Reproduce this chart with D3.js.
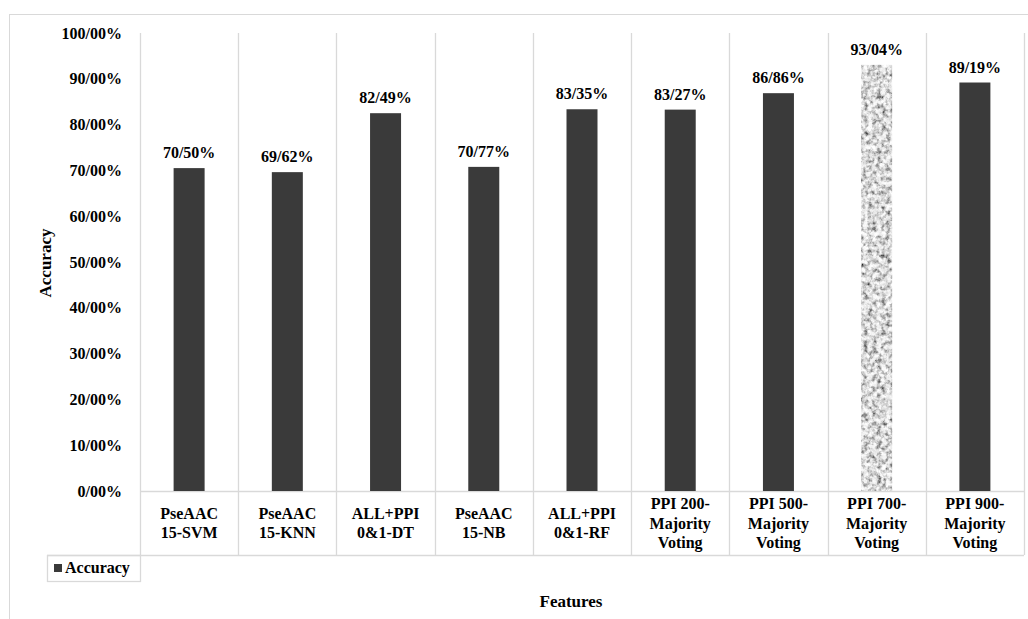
<!doctype html>
<html lang="en">
<head>
    <meta charset="utf-8"/>
    <title>Accuracy by Features</title>
    <style>
        body { margin: 0; background: #fff; }
        text { font-family: "Liberation Serif", "Times New Roman", serif; font-weight: bold; fill: #000; }
    </style>
    <script src="https://d3js.org/d3.v7.min.js"></script>
</head>
<body>
<svg width="1028" height="619"></svg>
<script>

    // data
    var categories = [
        ["PseAAC", "15-SVM"],
        ["PseAAC", "15-KNN"],
        ["ALL+PPI", "0&1-DT"],
        ["PseAAC", "15-NB"],
        ["ALL+PPI", "0&1-RF"],
        ["PPI 200-", "Majority", "Voting"],
        ["PPI 500-", "Majority", "Voting"],
        ["PPI 700-", "Majority", "Voting"],
        ["PPI 900-", "Majority", "Voting"]
    ];
    var accuracy = [70.50, 69.62, 82.49, 70.77, 83.35, 83.27, 86.86, 93.04, 89.19];
    var textured = [false, false, false, false, false, false, false, true, false];
    var yTicks = [0, 10, 20, 30, 40, 50, 60, 70, 80, 90, 100];

    var svg = d3.select("svg");
    var gridColor = "#d9d9d9",
        barColor = "#3a3a3a";

    var plotLeft = 140, plotRight = 1024, plotTop = 33, base = 491, tableBottom = 555;

    function fmt(v) {
        return v.toFixed(2).replace(".", "/") + "%";
    }

    // granite texture for the highlighted bar
    var defs = svg.append("defs");
    var f = defs.append("filter").attr("id", "granite")
        .attr("x", 0).attr("y", 0).attr("width", 1).attr("height", 1);
    f.append("feTurbulence")
        .attr("type", "fractalNoise")
        .attr("baseFrequency", 0.22)
        .attr("numOctaves", 3)
        .attr("seed", 7)
        .attr("result", "noise");
    f.append("feComponentTransfer").attr("in", "noise").attr("result", "lum")
        .call(function (c) {
            ["R", "G", "B"].forEach(function (ch) {
                c.append("feFunc" + ch).attr("type", "linear").attr("slope", 2.6).attr("intercept", -0.6);
            });
            c.append("feFuncA").attr("type", "linear").attr("slope", 0).attr("intercept", 1);
        });
    f.append("feColorMatrix").attr("in", "lum").attr("type", "saturate").attr("values", 0).attr("result", "mono");
    f.append("feComposite").attr("in", "mono").attr("in2", "SourceGraphic").attr("operator", "in");

    // outer chart border
    svg.append("rect")
       .attr("x", 9.5).attr("y", 14.5)
       .attr("width", 1040).attr("height", 620)
       .attr("fill", "none")
       .attr("stroke", gridColor);

    var x = d3.scaleBand().domain(d3.range(categories.length)).range([plotLeft, plotRight]).padding(0),
        y = d3.scaleLinear().domain([0, 100]).range([base, plotTop]);

    var g = svg.append("g");

    // vertical category separators (through the label table)
    var edges = d3.range(categories.length).map(function (i) { return x(i); }).concat([plotRight]);
    g.selectAll(".vgrid")
     .data(edges)
     .enter().append("line")
     .attr("x1", function (d) { return Math.round(d) + 0.5; })
     .attr("x2", function (d) { return Math.round(d) + 0.5; })
     .attr("y1", plotTop)
     .attr("y2", tableBottom)
     .attr("stroke", gridColor)
     .attr("stroke-width", 1.3);

    // baseline and table bottom
    g.append("line")
     .attr("x1", plotLeft).attr("x2", plotRight)
     .attr("y1", base + 0.5).attr("y2", base + 0.5)
     .attr("stroke", gridColor).attr("stroke-width", 1.3);
    g.append("line")
     .attr("x1", 47).attr("x2", plotRight)
     .attr("y1", tableBottom + 0.5).attr("y2", tableBottom + 0.5)
     .attr("stroke", gridColor).attr("stroke-width", 1.3);

    // legend box
    g.append("rect")
     .attr("x", 47.5).attr("y", tableBottom + 0.5)
     .attr("width", plotLeft - 47).attr("height", 26)
     .attr("fill", "none").attr("stroke", gridColor).attr("stroke-width", 1.3);
    g.append("rect")
     .attr("x", 54).attr("y", 564)
     .attr("width", 8).attr("height", 8)
     .attr("fill", barColor);
    g.append("text")
     .attr("x", 65).attr("y", 573)
     .attr("font-size", "16px")
     .text("Accuracy");

    // y tick labels
    g.selectAll(".ytick")
     .data(yTicks)
     .enter().append("text")
     .attr("x", 122)
     .attr("y", function (d) { return y(d); })
     .attr("dy", "0.35em")
     .attr("text-anchor", "end")
     .attr("font-size", "16px")
     .text(function (d) { return fmt(d); });

    var bw = 31;

    // bars
    g.selectAll(".bar")
     .data(accuracy)
     .enter().append("rect")
     .attr("x", function (d, i) { return x(i) + x.bandwidth() / 2 - bw / 2; })
     .attr("y", function (d) { return y(d); })
     .attr("width", bw)
     .attr("height", function (d) { return base - y(d); })
     .attr("fill", function (d, i) { return textured[i] ? "#999" : barColor; })
     .attr("filter", function (d, i) { return textured[i] ? "url(#granite)" : null; });

    // value labels
    g.selectAll(".val")
     .data(accuracy)
     .enter().append("text")
     .attr("x", function (d, i) { return x(i) + x.bandwidth() / 2; })
     .attr("y", function (d) { return y(d) - 10; })
     .attr("text-anchor", "middle")
     .attr("font-size", "16px")
     .text(function (d) { return fmt(d); });

    // category labels
    var cat = g.selectAll(".cat")
     .data(categories)
     .enter().append("text")
     .attr("text-anchor", "middle")
     .attr("font-size", "16px")
     .attr("x", function (d, i) { return x(i) + x.bandwidth() / 2; });
    cat.each(function (lines) {
        var t = d3.select(this), cx = t.attr("x");
        var lh = 19.5, mid = (base + tableBottom) / 2;
        lines.forEach(function (s, k) {
            t.append("tspan")
             .attr("x", cx)
             .attr("y", mid + (k - (lines.length - 1) / 2) * lh)
             .attr("dy", "0.35em")
             .text(s);
        });
    });

    // axis titles
    svg.append("text")
       .attr("transform", "translate(51,263) rotate(-90)")
       .attr("text-anchor", "middle")
       .attr("font-size", "17px")
       .text("Accuracy");

    svg.append("text")
       .attr("x", 571).attr("y", 607)
       .attr("text-anchor", "middle")
       .attr("font-size", "17px")
       .text("Features");

</script>
</body>
</html>
